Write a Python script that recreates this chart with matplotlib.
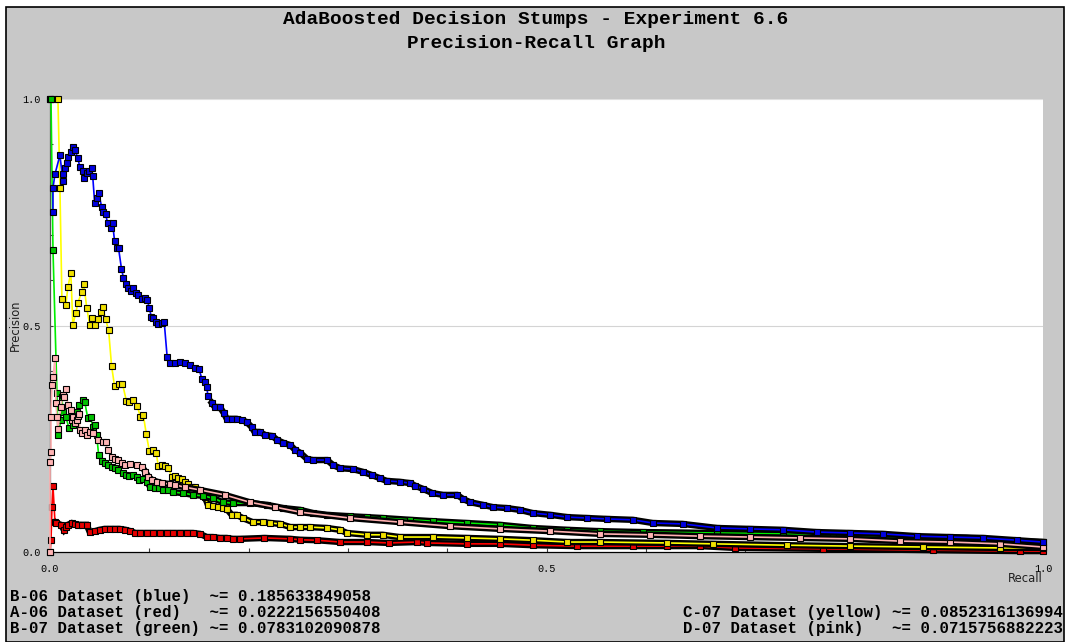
import matplotlib
matplotlib.use('Agg')
import matplotlib.pyplot as plt
from matplotlib.patches import Rectangle

# precision / recall points
recall_blue = [0.003, 0.003, 0.005, 0.010, 0.013, 0.013, 0.015, 0.017, 0.018, 0.021,
               0.023, 0.025, 0.028, 0.030, 0.033, 0.034, 0.037, 0.039, 0.042, 0.043,
               0.045, 0.047, 0.049, 0.052, 0.053, 0.056, 0.058, 0.061, 0.063, 0.065,
               0.067, 0.069, 0.072, 0.074, 0.077, 0.079, 0.082, 0.084, 0.087, 0.089,
               0.093, 0.096, 0.098, 0.100, 0.102, 0.104, 0.107, 0.109, 0.113, 0.115,
               0.118, 0.121, 0.126, 0.131, 0.136, 0.141, 0.146, 0.150, 0.153, 0.156,
               0.158, 0.159, 0.163, 0.166, 0.171, 0.175, 0.178, 0.183, 0.188, 0.193,
               0.198, 0.203, 0.206, 0.211, 0.217, 0.224, 0.229, 0.235, 0.242, 0.247,
               0.252, 0.259, 0.265, 0.279, 0.285, 0.292, 0.305, 0.315, 0.324, 0.332,
               0.339, 0.352, 0.363, 0.368, 0.376, 0.385, 0.396, 0.410, 0.416, 0.423,
               0.436, 0.446, 0.460, 0.473, 0.486, 0.504, 0.521, 0.541, 0.561, 0.587,
               0.607, 0.637, 0.672, 0.705, 0.738, 0.772, 0.806, 0.839, 0.873, 0.906,
               0.940, 0.974, 1.000]
prec_blue = [0.751, 0.804, 0.834, 0.876, 0.819, 0.834, 0.848, 0.859, 0.872, 0.883,
             0.894, 0.887, 0.870, 0.850, 0.841, 0.826, 0.837, 0.841, 0.848, 0.830,
             0.770, 0.781, 0.792, 0.762, 0.751, 0.746, 0.726, 0.715, 0.726, 0.687,
             0.671, 0.671, 0.625, 0.605, 0.592, 0.583, 0.576, 0.583, 0.572, 0.567,
             0.558, 0.561, 0.556, 0.539, 0.519, 0.517, 0.508, 0.503, 0.506, 0.508,
             0.430, 0.417, 0.417, 0.419, 0.417, 0.413, 0.406, 0.404, 0.382, 0.375,
             0.364, 0.344, 0.329, 0.320, 0.320, 0.307, 0.294, 0.294, 0.294, 0.291,
             0.287, 0.276, 0.265, 0.265, 0.258, 0.256, 0.247, 0.241, 0.236, 0.225,
             0.219, 0.205, 0.203, 0.203, 0.192, 0.185, 0.183, 0.177, 0.170, 0.163,
             0.157, 0.155, 0.152, 0.146, 0.139, 0.130, 0.126, 0.126, 0.117, 0.110,
             0.104, 0.099, 0.097, 0.093, 0.086, 0.082, 0.077, 0.075, 0.073, 0.071,
             0.064, 0.062, 0.053, 0.051, 0.049, 0.044, 0.042, 0.040, 0.035, 0.033,
             0.031, 0.026, 0.022]

recall_red = [0.0, 0.001, 0.002, 0.003, 0.005, 0.006, 0.011, 0.014, 0.016, 0.018,
              0.022, 0.025, 0.028, 0.032, 0.037, 0.040, 0.045, 0.050, 0.055, 0.060,
              0.065, 0.070, 0.076, 0.081, 0.086, 0.091, 0.098, 0.104, 0.111, 0.118,
              0.124, 0.131, 0.138, 0.144, 0.151, 0.158, 0.164, 0.171, 0.178, 0.184,
              0.191, 0.216, 0.242, 0.252, 0.269, 0.292, 0.319, 0.341, 0.370, 0.380,
              0.420, 0.453, 0.486, 0.531, 0.587, 0.621, 0.655, 0.690, 0.778, 0.889,
              0.977, 1.0]
prec_red = [0.0, 0.026, 0.10, 0.145, 0.066, 0.064, 0.060, 0.049, 0.055, 0.060,
            0.064, 0.062, 0.060, 0.060, 0.060, 0.044, 0.046, 0.049, 0.051, 0.051,
            0.051, 0.051, 0.049, 0.046, 0.042, 0.042, 0.042, 0.042, 0.042, 0.042,
            0.042, 0.042, 0.042, 0.042, 0.040, 0.033, 0.033, 0.031, 0.031, 0.029,
            0.029, 0.031, 0.029, 0.027, 0.026, 0.022, 0.022, 0.020, 0.022, 0.020,
            0.018, 0.018, 0.015, 0.013, 0.013, 0.013, 0.013, 0.009, 0.007, 0.004,
            0.002, 0.002]

recall_green = [0.0, 0.001, 0.003, 0.007, 0.008, 0.011, 0.012, 0.013, 0.016, 0.019,
                0.023, 0.025, 0.027, 0.029, 0.033, 0.035, 0.038, 0.041, 0.043, 0.045,
                0.047, 0.049, 0.052, 0.055, 0.058, 0.062, 0.065, 0.068, 0.074, 0.077,
                0.080, 0.084, 0.088, 0.090, 0.094, 0.098, 0.101, 0.106, 0.110, 0.114,
                0.119, 0.124, 0.134, 0.144, 0.154, 0.164, 0.174, 0.184, 0.201, 0.219,
                0.235, 0.252, 0.265, 0.279, 0.302, 0.319, 0.335, 0.363, 0.386, 0.420,
                0.453, 0.486, 0.521, 0.554, 0.597, 0.672, 0.738, 0.789, 0.856, 0.923,
                0.974, 1.0]
prec_green = [1.0, 1.0, 0.667, 0.351, 0.258, 0.291, 0.342, 0.309, 0.298, 0.274,
              0.280, 0.296, 0.309, 0.325, 0.336, 0.331, 0.296, 0.298, 0.276, 0.280,
              0.258, 0.214, 0.201, 0.196, 0.192, 0.188, 0.185, 0.181, 0.174, 0.170,
              0.168, 0.170, 0.166, 0.159, 0.161, 0.155, 0.143, 0.141, 0.141, 0.137,
              0.137, 0.132, 0.130, 0.126, 0.124, 0.119, 0.110, 0.108, 0.108, 0.104,
              0.097, 0.093, 0.086, 0.082, 0.079, 0.077, 0.075, 0.071, 0.068, 0.064,
              0.060, 0.053, 0.049, 0.046, 0.044, 0.042, 0.040, 0.038, 0.033, 0.031,
              0.024, 0.022]

recall_yellow = [0.0, 0.004, 0.008, 0.010, 0.012, 0.016, 0.018, 0.021, 0.023, 0.026,
                 0.028, 0.032, 0.034, 0.037, 0.040, 0.042, 0.045, 0.048, 0.051, 0.053,
                 0.056, 0.059, 0.062, 0.065, 0.069, 0.073, 0.077, 0.080, 0.084, 0.088,
                 0.091, 0.094, 0.097, 0.100, 0.104, 0.107, 0.109, 0.113, 0.116, 0.119,
                 0.123, 0.126, 0.129, 0.133, 0.136, 0.139, 0.143, 0.146, 0.150, 0.156,
                 0.159, 0.164, 0.169, 0.174, 0.178, 0.183, 0.188, 0.194, 0.204, 0.215,
                 0.222, 0.232, 0.242, 0.252, 0.262, 0.279, 0.292, 0.299, 0.319, 0.335,
                 0.352, 0.386, 0.420, 0.453, 0.486, 0.521, 0.554, 0.621, 0.668, 0.742,
                 0.806, 0.879, 0.957, 1.0]
prec_yellow = [1.0, 1.0, 1.0, 0.804, 0.558, 0.545, 0.585, 0.616, 0.501, 0.528,
               0.550, 0.574, 0.592, 0.539, 0.501, 0.517, 0.501, 0.514, 0.530, 0.541,
               0.514, 0.490, 0.411, 0.366, 0.371, 0.371, 0.333, 0.331, 0.336, 0.322,
               0.298, 0.302, 0.260, 0.223, 0.225, 0.219, 0.190, 0.192, 0.190, 0.185,
               0.166, 0.168, 0.163, 0.161, 0.155, 0.150, 0.143, 0.143, 0.135, 0.121,
               0.104, 0.102, 0.099, 0.097, 0.095, 0.082, 0.082, 0.075, 0.066, 0.066,
               0.064, 0.062, 0.055, 0.055, 0.055, 0.053, 0.049, 0.042, 0.038, 0.038,
               0.033, 0.033, 0.031, 0.029, 0.026, 0.022, 0.022, 0.020, 0.018, 0.015,
               0.013, 0.011, 0.009, 0.009]

recall_pink = [0.0, 0.0, 0.001, 0.001, 0.002, 0.003, 0.005, 0.006, 0.007, 0.008,
               0.011, 0.013, 0.014, 0.016, 0.018, 0.021, 0.022, 0.023, 0.025, 0.027,
               0.028, 0.029, 0.030, 0.032, 0.035, 0.037, 0.040, 0.043, 0.048, 0.053,
               0.056, 0.058, 0.062, 0.065, 0.068, 0.073, 0.076, 0.081, 0.088, 0.093,
               0.096, 0.099, 0.103, 0.108, 0.113, 0.121, 0.126, 0.136, 0.151, 0.176,
               0.201, 0.227, 0.252, 0.302, 0.352, 0.403, 0.453, 0.504, 0.554, 0.604,
               0.655, 0.705, 0.755, 0.806, 0.856, 0.906, 0.957, 1.0]
prec_pink = [0.0, 0.199, 0.221, 0.298, 0.369, 0.386, 0.428, 0.329, 0.298, 0.272,
             0.320, 0.347, 0.342, 0.360, 0.325, 0.313, 0.291, 0.298, 0.285, 0.291,
             0.300, 0.305, 0.269, 0.263, 0.269, 0.258, 0.265, 0.263, 0.247, 0.243,
             0.243, 0.225, 0.210, 0.205, 0.203, 0.196, 0.192, 0.194, 0.192, 0.188,
             0.177, 0.166, 0.159, 0.155, 0.152, 0.150, 0.148, 0.143, 0.137, 0.126,
             0.110, 0.099, 0.088, 0.075, 0.066, 0.057, 0.051, 0.046, 0.040, 0.038,
             0.035, 0.033, 0.031, 0.029, 0.024, 0.022, 0.018, 0.011]

legend_left = ["B-06 Dataset (blue)  ~= 0.185633849058",
               "A-06 Dataset (red)   ~= 0.0222156550408",
               "B-07 Dataset (green) ~= 0.0783102090878"]
legend_right = ["C-07 Dataset (yellow) ~= 0.0852316136994",
                "D-07 Dataset (pink)   ~= 0.0715756882223"]

# name, x, y, line colour, marker fill, recall where the markers pile up into a band
series = [
    ('red', recall_red, prec_red, '#ff0000', '#e60000', 0.004),
    ('yellow', recall_yellow, prec_yellow, '#ffff00', '#f0e000', 0.155),
    ('green', recall_green, prec_green, '#00ee00', '#00c000', 0.095),
    ('pink', recall_pink, prec_pink, '#ffb0b0', '#ffb4b4', 0.095),
    ('blue', recall_blue, prec_blue, '#0000ff', '#0000e0', 0.16),
]

W, H = 1066, 642
fig = plt.figure(figsize=(W / 100, H / 100), dpi=100, facecolor='white')

# grey panel with black frame
fig.patches.append(Rectangle((6 / W, 0), 1058 / W, 1 - 7 / H, transform=fig.transFigure,
                             facecolor='#c8c8c8', edgecolor='black', linewidth=1.2,
                             zorder=-10))

ax = fig.add_axes([50 / W, (H - 552) / H, 993 / W, 453 / H])
ax.set_facecolor('white')
ax.set_xlim(0, 1)
ax.set_ylim(0, 1)

ax.axhline(0.5, color='#d4d4d4', lw=0.8, zorder=0)
ax.axhline(1.0, color='#e0e0e0', lw=0.8, zorder=0)

for i, (name, r, p, lc, fc, dense) in enumerate(series):
    z = 3 + i
    tail_r = [a for a in r if a >= dense]
    tail_p = [b for a, b in zip(r, p) if a >= dense]
    ax.plot(tail_r, tail_p, color='black', lw=4.6, solid_joinstyle='miter',
            zorder=z, clip_on=False)
    ax.plot(r, p, color=lc, lw=1.2, zorder=z + 0.1, clip_on=False)
    ax.plot(r, p, ls='none', marker='s', ms=4.0, mfc=fc, mec='black', mew=0.8,
            zorder=z + 0.2, clip_on=False)

for side in ['top', 'right']:
    ax.spines[side].set_visible(False)
ax.spines['left'].set_color('#505050')
ax.spines['bottom'].set_color('black')
ax.spines['left'].set_linewidth(0.9)
ax.spines['bottom'].set_linewidth(0.9)

ax.set_xticks([0.0, 0.5, 1.0])
ax.set_xticklabels(['0.0', '0.5', '1.0'])
ax.set_xticks([0.1, 0.2, 0.3, 0.4, 0.6, 0.7, 0.8, 0.9], minor=True)
ax.set_yticks([0.0, 0.5, 1.0])
ax.set_yticklabels(['0.0', '0.5', '1.0'])
ax.set_yticks([0.1, 0.2, 0.3, 0.4, 0.6, 0.7, 0.8, 0.9], minor=True)
ax.tick_params(axis='x', which='both', direction='in', length=3, width=0.8,
               color='#404040', pad=9)
ax.tick_params(axis='y', which='both', direction='in', length=2.5, width=0.8,
               color='#404040', pad=7)
for lab in ax.get_xticklabels() + ax.get_yticklabels():
    lab.set_fontfamily('Liberation Mono')
    lab.set_fontsize(7.3)

ax.text(1.0, -27 / 453, 'Recall', transform=ax.transAxes, ha='right', va='center',
        fontsize=8.3, family='DejaVu Sans', color='#202020')
ax.text(-35 / 993, 0.5, 'Precision', transform=ax.transAxes, ha='center', va='center',
        rotation=90, fontsize=8.3, family='DejaVu Sans', color='#202020')

fig.text(536 / W, 1 - 19 / H, 'AdaBoosted Decision Stumps - Experiment 6.6',
         ha='center', va='center', fontsize=14, family='Liberation Mono',
         fontweight='bold')
fig.text(536 / W, 1 - 43 / H, 'Precision-Recall Graph',
         ha='center', va='center', fontsize=14, family='Liberation Mono',
         fontweight='bold')

for k, line in enumerate(legend_left):
    fig.text(10 / W, 1 - (597 + 16 * k) / H, line, ha='left', va='center',
             fontsize=11.3, family='Liberation Mono', fontweight='bold')
for k, line in enumerate(legend_right):
    fig.text(683 / W, 1 - (613 + 16 * k) / H, line, ha='left', va='center',
             fontsize=11.3, family='Liberation Mono', fontweight='bold')

fig.savefig('out.png', dpi=100, facecolor=fig.get_facecolor())
